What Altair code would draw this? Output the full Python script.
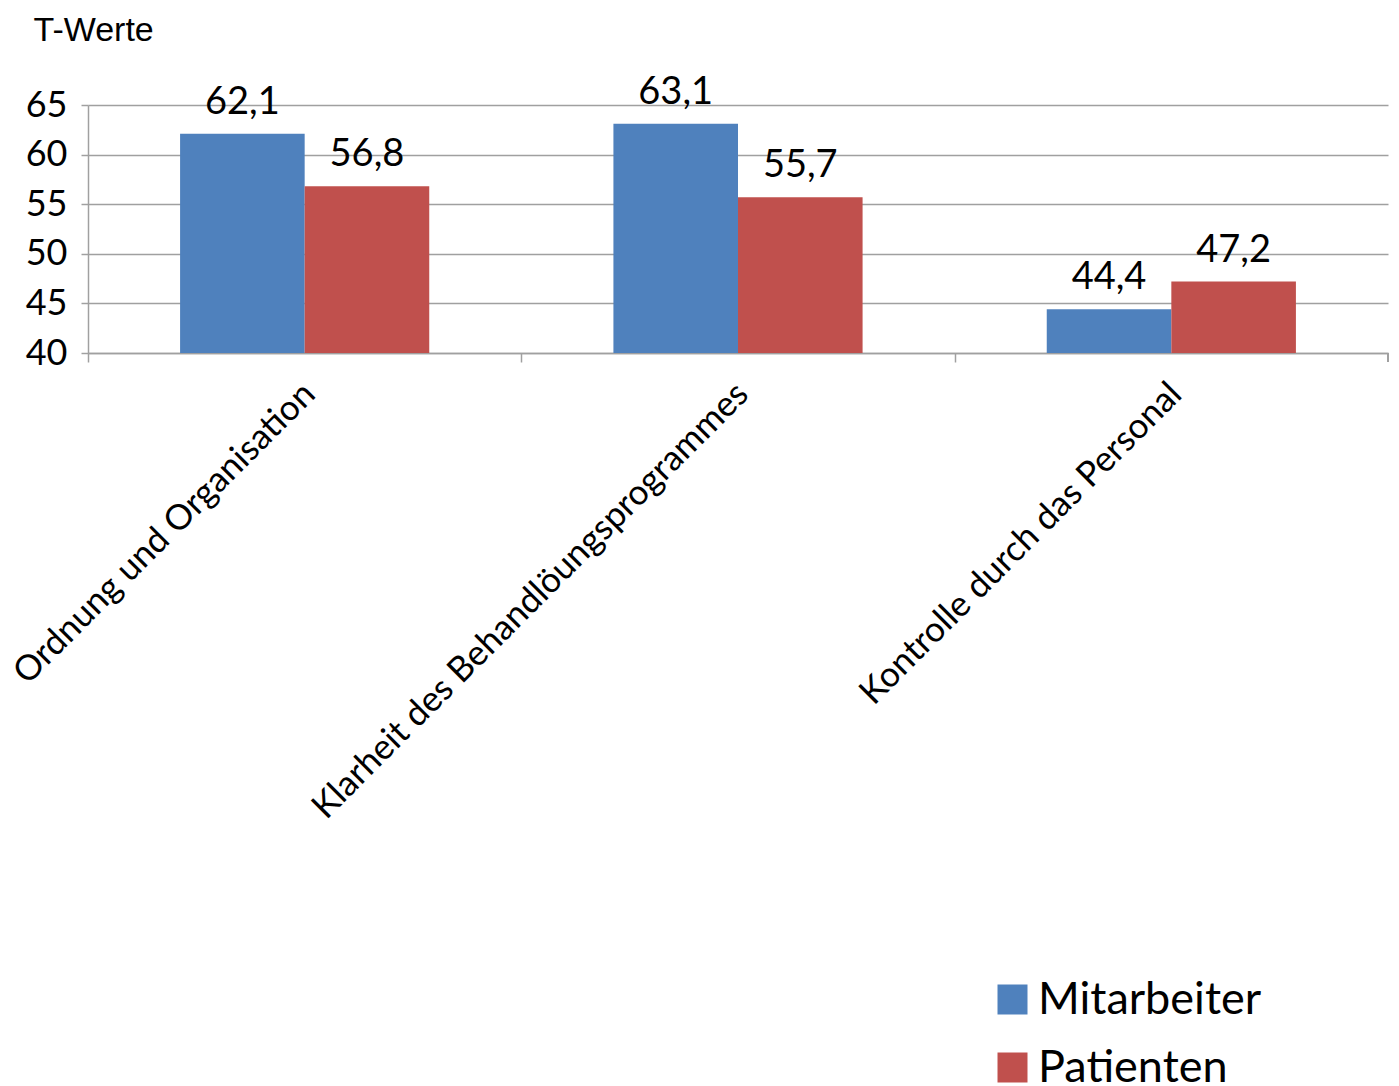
import altair as alt
import pandas as pd

categories = ["Ordnung und Organisation", "Klarheit des Behandlöungsprogrammes", "Kontrolle durch das Personal"]
series = ["Mitarbeiter", "Patienten"]
mitarbeiter = [62.1, 63.1, 44.4]
patienten = [56.8, 55.7, 47.2]
colors = ["#4F81BD", "#C0504D"]

rows = []
for c, m, p in zip(categories, mitarbeiter, patienten):
    rows.append({"Kategorie": c, "Gruppe": "Mitarbeiter", "Wert": m, "Label": f"{m:.1f}".replace(".", ",")})
    rows.append({"Kategorie": c, "Gruppe": "Patienten", "Wert": p, "Label": f"{p:.1f}".replace(".", ",")})
df = pd.DataFrame(rows)

W, H = 1300, 248
FONT = "Lato"

x = alt.X("Kategorie:N", sort=categories,
          scale=alt.Scale(paddingInner=0.425, paddingOuter=0.2125),
          axis=alt.Axis(title=None, labelAngle=-45, labelAlign="right", labelBaseline="top",
                        labelFont=FONT, labelFontSize=35, labelColor="#000000", labelPadding=14,
                        labelLimit=0, tickOffset=-W / 6, labelOffset=W / 6 - 8,
                        tickSize=9, tickColor="#a0a0a0",
                        domainColor="#a0a0a0", domainWidth=1.5, tickWidth=1.5, grid=False))
xo = alt.XOffset("Gruppe:N", sort=series, scale=alt.Scale(paddingInner=0, paddingOuter=0))
y = alt.Y("Wert:Q", scale=alt.Scale(domain=[40, 65], nice=False, zero=False),
          axis=alt.Axis(values=[40, 45, 50, 55, 60, 65], title="T-Werte", titleAngle=0,
                        titleX=-55, titleY=-92, titleAlign="left", titleBaseline="top",
                        titleFont="Liberation Sans", titleFontSize=34, titleFontWeight="normal",
                        titleColor="#000000",
                        labelFont=FONT, labelFontSize=36, labelColor="#000000", labelPadding=14,
                        tickSize=7, tickColor="#a0a0a0", tickWidth=1.5,
                        domainColor="#a0a0a0", domainWidth=1.5,
                        gridColor="#a0a0a0", gridWidth=1.5))
color = alt.Color("Gruppe:N", sort=series, scale=alt.Scale(domain=series, range=colors),
                  legend=alt.Legend(title=None, orient="none", legendX=902, legendY=872,
                                    symbolType="square", symbolSize=900, symbolStrokeWidth=0,
                                    labelFont=FONT, labelFontSize=45, labelColor="#000000",
                                    labelOffset=3, rowPadding=22, labelLimit=0))

base = alt.Chart(df)
bars = base.mark_bar(clip=True).encode(x=x, xOffset=xo, y=y, color=color)
labels = base.mark_text(baseline="alphabetic", dy=-20, font=FONT, fontSize=38, color="#000000").encode(
    x=alt.X("Kategorie:N", sort=categories), xOffset=xo, y="Wert:Q", text="Label:N")
end_tick = alt.Chart(df).mark_rule(color="#a0a0a0", strokeWidth=1.5).encode(
    x=alt.value(W), y=alt.value(H), y2=alt.value(H + 9))

chart = alt.layer(bars, labels, end_tick).properties(
    width=W, height=H,
    autosize=alt.AutoSizeParams(type="none"),
    padding={"left": 88, "top": 105, "right": 11, "bottom": 733},
    background="#ffffff",
).configure_view(stroke=None).configure_axisY(domain=True)

chart.save("out.html", embed_options={"renderer": "svg", "actions": False})
